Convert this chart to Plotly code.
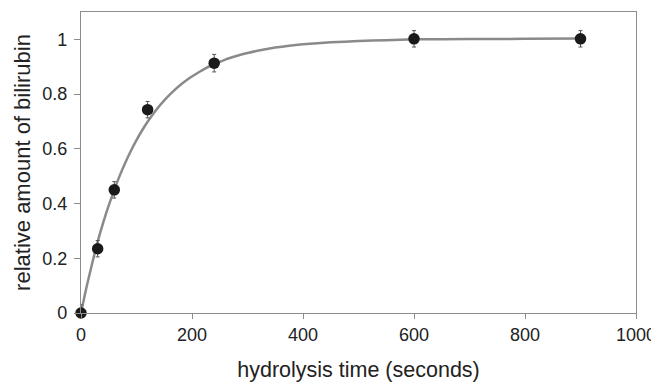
import plotly.graph_objects as go

# measured data points
time_s = [0, 30, 60, 120, 240, 600, 900]
bilirubin = [0.0, 0.235, 0.45, 0.743, 0.913, 1.002, 1.002]
err = [0.03, 0.03, 0.03, 0.03, 0.032, 0.03, 0.03]

# fitted curve
curve_x = [0, 10, 20, 30, 40, 50, 60, 70, 80, 90, 100, 110, 120, 135, 150, 165,
           180, 195, 210, 225, 240, 260, 280, 300, 325, 350, 375, 400, 450,
           500, 550, 600, 700, 800, 900]
curve_y = [0.0, 0.095, 0.18, 0.26, 0.33, 0.393, 0.45, 0.503, 0.55, 0.593, 0.632,
           0.667, 0.699, 0.741, 0.777, 0.808, 0.835, 0.858, 0.877, 0.895,
           0.909, 0.926, 0.939, 0.95, 0.961, 0.97, 0.977, 0.982, 0.989,
           0.994, 0.997, 1.0, 1.001, 1.002, 1.003]

x_ticks = [0, 200, 400, 600, 800, 1000]
y_ticks = [0, 0.2, 0.4, 0.6, 0.8, 1]

FONT = "Liberation Sans, Arial, sans-serif"

fig = go.Figure()
fig.add_trace(go.Scatter(
    x=curve_x, y=curve_y, mode="lines",
    line=dict(color="#8a8a8a", width=2.5, shape="spline", smoothing=0.6),
    hoverinfo="skip", cliponaxis=False,
))
fig.add_trace(go.Scatter(
    x=time_s, y=bilirubin, mode="markers",
    marker=dict(color="#1a1a1a", size=11.5),
    error_y=dict(type="data", array=err, color="#555555", thickness=1, width=2),
    cliponaxis=False,
))

axis_font = dict(family=FONT, size=18, color="#222222")
fig.update_layout(
    width=651, height=382,
    margin=dict(l=81, r=15, t=12, b=69),
    paper_bgcolor="white", plot_bgcolor="white",
    showlegend=False,
    font=dict(family=FONT, color="#222222"),
)
fig.update_xaxes(
    range=[0, 1000], tickvals=x_ticks, ticktext=[str(v) for v in x_ticks],
    showgrid=False, zeroline=False, automargin=False,
    showline=True, linecolor="#8c8c8c", linewidth=1.2, mirror=True,
    ticks="outside", ticklen=5, tickcolor="#8c8c8c",
    tickfont=axis_font, ticklabeloverflow="allow",
    title=dict(text="hydrolysis time (seconds)",
               font=dict(family=FONT, size=21.5, color="#222222"),
               standoff=21),
)
fig.update_yaxes(
    range=[0, 1.1], tickvals=y_ticks, ticktext=["0", "0.2", "0.4", "0.6", "0.8", "1"],
    showgrid=False, zeroline=False, automargin=False,
    showline=True, linecolor="#8c8c8c", linewidth=1.2, mirror=True,
    ticks="outside", ticklen=6, tickcolor="#8c8c8c",
    tickfont=axis_font, ticklabeloverflow="allow", ticklabelstandoff=3,
    title=dict(text="relative amount of bilirubin",
               font=dict(family=FONT, size=22, color="#222222"),
               standoff=5),
)

fig.write_html("out.html",
               config={"displayModeBar": False},
               post_script="document.body.style.margin='0';document.body.style.overflow='hidden';")
